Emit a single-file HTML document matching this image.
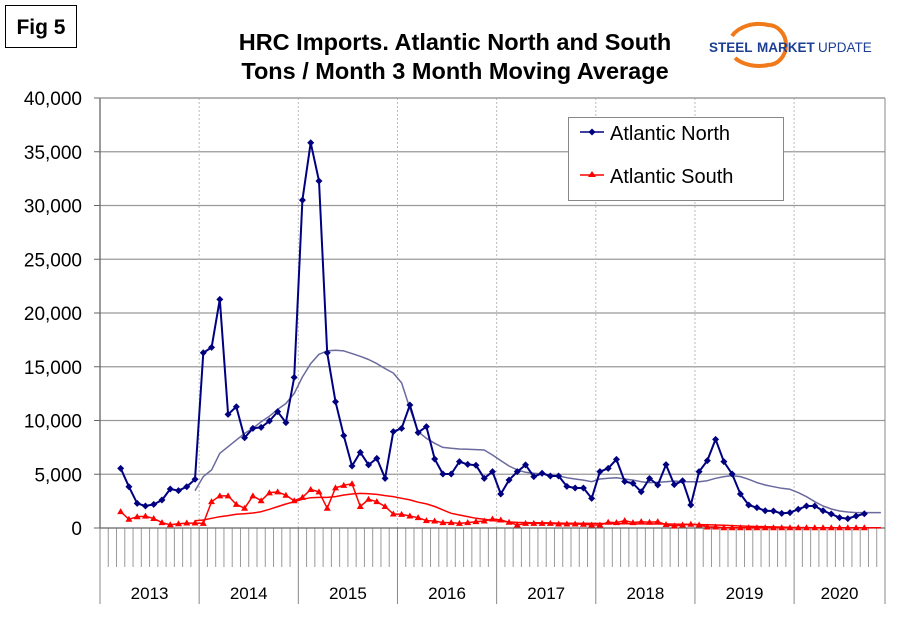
<!DOCTYPE html>
<html><head><meta charset="utf-8"><style>
body{margin:0;background:#fff;width:910px;height:622px;overflow:hidden;font-family:"Liberation Sans",Arial,sans-serif}
</style></head><body>
<svg width="910" height="622" viewBox="0 0 910 622" xmlns="http://www.w3.org/2000/svg" font-family="Liberation Sans, Arial, sans-serif">
<rect x="0" y="0" width="910" height="622" fill="#fff"/>
<g>
<rect x="5.5" y="5.5" width="71" height="42" fill="#fff" stroke="#000" stroke-width="1"/>
<text x="41" y="34" font-size="21" font-weight="bold" text-anchor="middle">Fig 5</text>
</g>
<text x="455" y="50" font-size="23.5" font-weight="bold" text-anchor="middle">HRC Imports. Atlantic North and South</text>
<text x="455" y="79" font-size="23.5" font-weight="bold" text-anchor="middle">Tons / Month 3 Month Moving Average</text>
<g>
<path d="M732 36 A30 22 0 0 1 768 25 A18 20 0 0 1 768 65 A30 20 0 0 1 735 58" fill="none" stroke="#f07a1a" stroke-width="4"/>
<text x="709" y="52" font-size="13.5" font-weight="bold" fill="#1c3f94">STEEL</text>
<text x="757" y="52" font-size="13.5" fill="#1c3f94" font-weight="bold">MARKET</text>
<text x="818" y="52" font-size="13.5" fill="#1c3f94">UPDATE</text>
</g>
<g id="grid"></g>
<g id="axes"></g>
<g id="series"></g>
<g>
<rect x="568.5" y="117.5" width="215" height="83" fill="#fff" stroke="#888"/>
<line x1="580" y1="132" x2="604" y2="132" stroke="#000080" stroke-width="1.5"/>
<rect x="589.5" y="129.5" width="5" height="5" fill="#000080" transform="rotate(45 592 132)"/>
<text x="610" y="140" font-size="20">Atlantic North</text>
<line x1="580" y1="175" x2="604" y2="175" stroke="#ff0000" stroke-width="1.5"/>
<polygon points="592,171 596,177 588,177" fill="#ff0000"/>
<text x="610" y="183" font-size="20">Atlantic South</text>
</g>
</svg>
<script>
const years = ["2013","2014","2015","2016","2017","2018","2019","2020"];
const yTicks = [0,5000,10000,15000,20000,25000,30000,35000,40000];
const yTickLabels = ["0","5,000","10,000","15,000","20,000","25,000","30,000","35,000","40,000"];
const northStart = 2;
const north = [5550,3840,2290,2050,2200,2600,3630,3480,3840,4530,16300,16800,21270,10570,11280,8400,9270,9360,9950,10820,9800,14010,30500,35840,32280,16300,11750,8590,5770,7040,5870,6480,4620,8960,9270,11440,8870,9430,6420,5020,5020,6170,5920,5840,4620,5240,3160,4460,5240,5870,4780,5090,4840,4840,3870,3720,3720,2760,5240,5550,6380,4330,4150,3370,4610,4000,5890,4030,4400,2140,5240,6270,8250,6170,5020,3160,2140,1890,1610,1580,1360,1430,1740,2050,2050,1610,1300,960,870,1120,1330];
const south = [1520,810,1050,1100,880,500,300,400,460,460,430,2450,2990,2990,2200,1840,2990,2540,3270,3360,3050,2540,2850,3580,3360,1840,3730,3970,4120,2000,2670,2450,2000,1300,1270,1120,960,690,650,500,500,430,500,590,650,840,740,530,280,430,430,430,430,370,370,370,350,280,280,530,500,690,500,590,530,590,310,190,280,350,280,90,90,20,20,20,20,20,20,20,20,20,20,20,20,20,20,20,20,20,20];
const maStart = 11;
const northMA = [3470,4780,5400,6950,7560,8180,8800,9270,9880,10400,11030,11580,12510,14050,15290,16160,16470,16530,16470,16220,15970,15670,15290,14830,14420,13500,11130,8960,8340,7880,7500,7410,7350,7320,7290,7260,6790,6270,5770,5400,5180,5090,5020,4930,4840,4680,4560,4460,4310,4560,4620,4680,4560,4460,4310,4220,4250,4310,4370,4310,4310,4310,4400,4620,4780,4870,4780,4530,4220,4000,3840,3690,3600,3290,2910,2450,2050,1770,1580,1490,1430,1430,1430,1430];
const southMA = [680,740,900,1050,1150,1270,1330,1400,1520,1740,1990,2230,2450,2670,2820,2850,2850,2920,3070,3160,3220,3190,3130,3010,2920,2760,2610,2400,2240,2000,1680,1370,1210,1060,900,810,690,620,560,520,500,490,480,470,460,450,440,430,430,420,410,400,400,390,380,380,370,370,360,350,340,320,300,280,250,220,190,160,140,120,100,80,60,50,40,30,20,20,20,20,20,20,20,20];
const NCAT = 95, X0 = 100, X1 = 885, Y0 = 528, Y1 = 98, YMAX = 40000;
const NS = "http://www.w3.org/2000/svg";
const cw = (X1 - X0) / NCAT;
function xPos(i){ return X0 + (i + 0.5) * cw; }
function yPos(v){ return Y0 - (v / YMAX) * (Y0 - Y1); }
function mk(tag, attrs, parent){ const e = document.createElementNS(NS, tag); for (const k in attrs) e.setAttribute(k, attrs[k]); parent.appendChild(e); return e; }
const grid = document.getElementById('grid'), axes = document.getElementById('axes'), ser = document.getElementById('series');
yTicks.forEach((t, i) => {
  const y = yPos(t);
  if (t > 0) { const l = mk('line', {x1: X0, x2: X1, y1: y, y2: y, stroke: '#999', 'stroke-width': 1.3}, grid);
    
     }
  mk('line', {x1: X0 - 6, x2: X0, y1: y, y2: y, stroke: '#666'}, axes);
  const tx = mk('text', {x: 82, y: y + 7, 'font-size': 19, 'text-anchor': 'end'}, axes);
  tx.textContent = yTickLabels[i];
  
  
});
years.forEach((yr, k) => {
  const xs = X0 + k * 12 * cw;
  if (k > 0) mk('line', {x1: xs, x2: xs, y1: Y1, y2: Y0, stroke: '#bbb', 'stroke-dasharray': '2,2'}, grid);
  mk('line', {x1: xs, x2: xs, y1: Y0, y2: 604, stroke: '#888'}, axes);
  const xe = Math.min(X0 + (k + 1) * 12 * cw, X1);
  const tx = mk('text', {x: (xs + xe) / 2, y: 599, 'font-size': 17, 'text-anchor': 'middle'}, axes);
  tx.textContent = yr;
  
  
});
mk('line', {x1: X1, x2: X1, y1: Y1, y2: 604, stroke: '#888'}, axes);
for (let i = 1; i < NCAT; i++) { if (i % 12 === 0) continue; const x = X0 + i * cw; mk('line', {x1: x, x2: x, y1: Y0, y2: 567, stroke: '#999'}, axes); }
mk('line', {x1: X0, x2: X0, y1: Y1, y2: Y0, stroke: '#666', 'stroke-width': 1.3}, axes);
mk('line', {x1: X0, x2: X1, y1: Y1, y2: Y1, stroke: '#999', 'stroke-width': 1.3}, axes);
mk('line', {x1: X0, x2: X1, y1: Y0, y2: Y0, stroke: '#666', 'stroke-width': 1.3}, axes);
function poly(arr, start, color, w, name){
  const pts = arr.map((v, i) => xPos(start + i).toFixed(1) + ',' + yPos(v).toFixed(1)).join(' ');
  const p = mk('polyline', {points: pts, fill: 'none', stroke: color, 'stroke-width': w, 'stroke-linejoin': 'round'}, ser);
  
  
}
poly(northMA, maStart, '#6a6a9e', 1.5, 'north-moving-average');
poly(southMA, maStart, '#ff0000', 1.5, 'south-moving-average');
poly(south, northStart, '#ff0000', 1.5, 'south-line');
poly(north, northStart, '#000080', 2, 'north-line');
south.forEach((v, i) => { const x = xPos(northStart + i), y = yPos(v);
  const m = mk('polygon', {points: `${x},${y-3.5} ${x+3.5},${y+2.5} ${x-3.5},${y+2.5}`, fill: '#ff0000'}, ser);
  
   });
north.forEach((v, i) => { const x = xPos(northStart + i), y = yPos(v);
  const m = mk('polygon', {points: `${x},${y-3.5} ${x+3.5},${y} ${x},${y+3.5} ${x-3.5},${y}`, fill: '#000080'}, ser);
  
   });
</script>
</body></html>
